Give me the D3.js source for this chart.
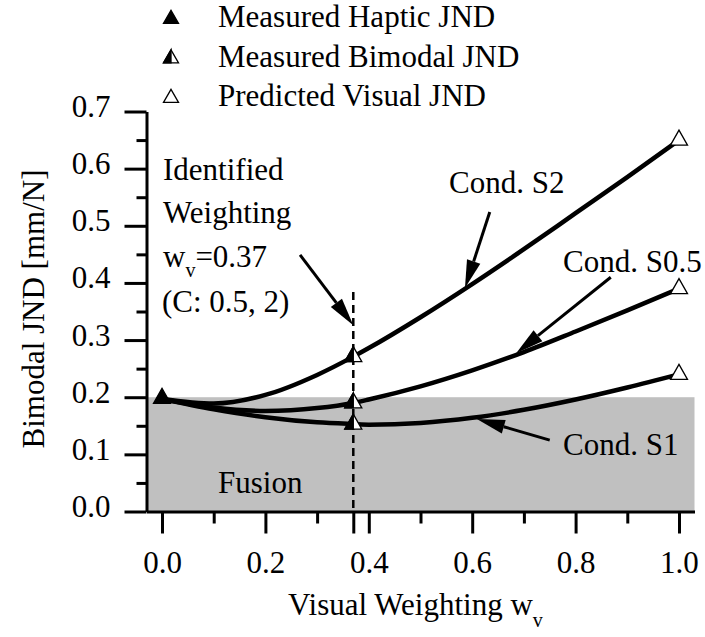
<!DOCTYPE html>
<html>
<head>
<meta charset="utf-8">
<script src="https://cdn.jsdelivr.net/npm/d3@7"></script>
</head>
<body style="margin:0;background:#fff">
<svg id="chart" width="705" height="637" style="display:block"></svg>
<script>
// Visual weighting values at which the curves are sampled
const weights = [0, 0.1, 0.2, 0.3, 0.37, 0.4, 0.5, 0.6, 0.7, 0.8, 0.9, 1.0];
// Bimodal JND [mm/N] for each condition
const condS2  = [0.197, 0.189, 0.204, 0.239, 0.271, 0.286, 0.340, 0.398, 0.459, 0.522, 0.585, 0.650];
const condS05 = [0.197, 0.182, 0.176, 0.181, 0.190, 0.196, 0.219, 0.247, 0.279, 0.315, 0.352, 0.390];
const condS1  = [0.197, 0.179, 0.165, 0.156, 0.153, 0.152, 0.155, 0.164, 0.178, 0.196, 0.217, 0.240];
const seriesNames = ["Cond. S2", "Cond. S0.5", "Cond. S1"];

// Marker data
const hapticJND = [{ w: 0, v: 0.198 }];
const bimodalJND = [{ w: 0.37, v: 0.271 }, { w: 0.37, v: 0.190 }, { w: 0.37, v: 0.153 }];
const visualJND = [{ w: 1, v: 0.650 }, { w: 1, v: 0.390 }, { w: 1, v: 0.240 }];

const identifiedWeight = 0.37;
const fusionLimit = 0.2;

const xMajorTicks = [0, 0.2, 0.4, 0.6, 0.8, 1.0];
const xMinorTicks = [0.1, 0.3, 0.5, 0.7, 0.9];
const yMajorTicks = [0, 0.1, 0.2, 0.3, 0.4, 0.5, 0.6, 0.7];
const yMinorTicks = [0.05, 0.15, 0.25, 0.35, 0.45, 0.55, 0.65];

const legendItems = [
  { label: "Measured Haptic JND", kind: "filled" },
  { label: "Measured Bimodal JND", kind: "half" },
  { label: "Predicted Visual JND", kind: "open" }
];

const svg = d3.select("#chart");
const FONT = "31px";
const SUB = "20px";

const x = d3.scaleLinear().domain([-0.03, 1.03]).range([146.5, 694.5]);
const y = d3.scaleLinear().domain([0, 0.7]).range([511.5, 111.5]);

// Fusion region
svg.append("rect")
  .attr("x", x(-0.03)).attr("y", y(fusionLimit))
  .attr("width", x(1.03) - x(-0.03)).attr("height", y(0) - y(fusionLimit))
  .attr("fill", "#c0c0c0");

svg.append("text").attr("x", 218).attr("y", 493).text("Fusion");

// Axes
function styleAxis(g) {
  g.attr("font-family", null).attr("font-size", null);
  g.selectAll("path.domain").attr("stroke", "#000").attr("stroke-width", 3);
  g.selectAll(".tick line").attr("stroke", "#000").attr("stroke-width", 3);
}

const xAxisMinor = svg.append("g").attr("transform", `translate(0,${y(0)})`)
  .call(d3.axisBottom(x).tickValues(xMinorTicks).tickSize(12).tickSizeOuter(0).tickFormat(""));
styleAxis(xAxisMinor);
xAxisMinor.select("path.domain").remove();
xAxisMinor.selectAll("text").remove();

const xAxisExtra = svg.append("g").attr("transform", `translate(0,${y(0)})`)
  .call(d3.axisBottom(x).tickValues([identifiedWeight]).tickSize(22).tickSizeOuter(0).tickFormat(""));
styleAxis(xAxisExtra);
xAxisExtra.select("path.domain").remove();
xAxisExtra.selectAll("text").remove();

const xAxis = svg.append("g").attr("transform", `translate(0,${y(0)})`)
  .call(d3.axisBottom(x).tickValues(xMajorTicks).tickSize(22).tickSizeOuter(0)
    .tickFormat(d3.format(".1f")));
styleAxis(xAxis);
xAxis.selectAll("text").attr("y", 0).attr("dy", 0).attr("transform", "translate(0,61)");

const yAxisMinor = svg.append("g").attr("transform", `translate(${x(-0.03)},0)`)
  .call(d3.axisLeft(y).tickValues(yMinorTicks).tickSize(10).tickSizeOuter(0).tickFormat(""));
styleAxis(yAxisMinor);
yAxisMinor.select("path.domain").remove();
yAxisMinor.selectAll("text").remove();

const yAxis = svg.append("g").attr("transform", `translate(${x(-0.03)},0)`)
  .call(d3.axisLeft(y).tickValues(yMajorTicks).tickSize(22).tickSizeOuter(0)
    .tickPadding(14).tickFormat(d3.format(".1f")));
styleAxis(yAxis);
yAxis.selectAll("text").attr("dy", 0).attr("y", 5);

// Axis titles
svg.append("text")
  .attr("transform", `translate(44,309) rotate(-90)`)
  .attr("text-anchor", "middle")
  .text("Bimodal JND [mm/N]");

const xTitle = svg.append("text").attr("x", 288).attr("y", 615);
xTitle.append("tspan").text("Visual Weighting w");
xTitle.append("tspan").attr("class", "sub").attr("dy", 12).text("v");

// Identified weighting marker line
svg.append("line")
  .attr("x1", x(identifiedWeight)).attr("x2", x(identifiedWeight))
  .attr("y1", y(0.384)).attr("y2", y(0))
  .attr("stroke", "#000").attr("stroke-width", 2.5)
  .attr("stroke-dasharray", "8,5");

// Curves
const line = d3.line()
  .x((d, i) => x(weights[i]))
  .y(d => y(d))
  .curve(d3.curveMonotoneX);

[condS2, condS05, condS1].forEach((s, k) => {
  svg.append("path").datum(s)
    .attr("class", "curve").attr("data-name", seriesNames[k])
    .attr("d", line)
    .attr("fill", "none").attr("stroke", "#000").attr("stroke-width", 4.5)
    .attr("stroke-linejoin", "round");
});

// Triangle markers
function triPoints(cx, cy, w, h) {
  return {
    top: [cx, cy - h * 2 / 3],
    left: [cx - w / 2, cy + h / 3],
    right: [cx + w / 2, cy + h / 3],
    mid: [cx, cy + h / 3]
  };
}
function drawTriangle(g, cx, cy, kind, w, h) {
  const p = triPoints(cx, cy, w, h);
  g.append("path").attr("d", `M${p.top}L${p.right}L${p.left}Z`)
    .attr("fill", kind === "filled" ? "#000" : "#fff")
    .attr("stroke", "#000").attr("stroke-width", 1.3);
  if (kind === "half") {
    g.append("path").attr("d", `M${p.top}L${p.mid}L${p.left}Z`)
      .attr("fill", "#000").attr("stroke", "#000").attr("stroke-width", 1.3);
  }
}

const markers = svg.append("g");
hapticJND.forEach(d => drawTriangle(markers, x(d.w), y(d.v), "filled", 17, 15));
bimodalJND.forEach(d => drawTriangle(markers, x(d.w), y(d.v), "half", 17, 15));
visualJND.forEach(d => drawTriangle(markers, x(d.w), y(d.v), "open", 17, 15));

// Legend
const legend = svg.append("g");
legendItems.forEach((d, i) => {
  const base = 27 + i * 39.5;
  drawTriangle(legend, 171, base - 8, d.kind, 15, 13);
  legend.append("text").attr("x", 218).attr("y", base).text(d.label);
});

// Annotations with arrows
function arrow(from, to) {
  const x1 = x(from[0]), y1 = y(from[1]), x2 = x(to[0]), y2 = y(to[1]);
  const ang = Math.atan2(y2 - y1, x2 - x1);
  const len = 28, half = 7;
  const bx = x2 - len * Math.cos(ang), by = y2 - len * Math.sin(ang);
  svg.append("line").attr("x1", x1).attr("y1", y1).attr("x2", bx).attr("y2", by)
    .attr("stroke", "#000").attr("stroke-width", 3);
  const px = -Math.sin(ang) * half, py = Math.cos(ang) * half;
  svg.append("path")
    .attr("d", `M${x2},${y2}L${bx + px},${by + py}L${bx - px},${by - py}Z`)
    .attr("fill", "#000");
}

arrow([0.634, 0.524], [0.586, 0.391]);
arrow([0.868, 0.410], [0.685, 0.277]);
arrow([0.750, 0.125], [0.609, 0.162]);
arrow([0.267, 0.449], [0.370, 0.326]);

svg.append("text").attr("x", 449).attr("y", 193).text(seriesNames[0]);
svg.append("text").attr("x", 563).attr("y", 272).text(seriesNames[1]);
svg.append("text").attr("x", 563).attr("y", 455).text(seriesNames[2]);

svg.append("text").attr("x", 163).attr("y", 180).text("Identified");
svg.append("text").attr("x", 163).attr("y", 223).text("Weighting");
const wLine = svg.append("text").attr("x", 163).attr("y", 267);
wLine.append("tspan").text("w");
wLine.append("tspan").attr("class", "sub").attr("dy", 10).text("v");
wLine.append("tspan").attr("dy", -10).text("=0.37");
svg.append("text").attr("x", 162).attr("y", 312).text("(C: 0.5, 2)");

// Serif face and size for every label
svg.selectAll("text")
  .style("font-family", "Liberation Serif")
  .style("font-size", FONT)
  .style("fill", "#000");
svg.selectAll("tspan.sub").style("font-size", SUB);
</script>
</body>
</html>
